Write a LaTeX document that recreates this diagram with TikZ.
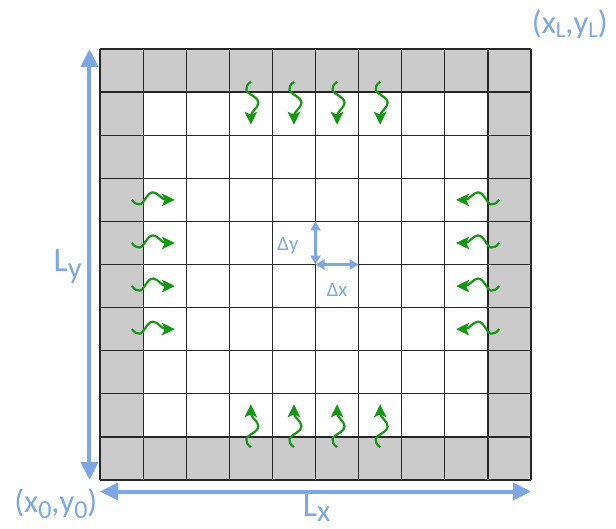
\documentclass[tikz,border=0pt]{standalone}
\usepackage{fontspec}
\usepackage{graphicx}
\setmainfont{Carlito}
\usetikzlibrary{positioning, arrows.meta}

\definecolor{cellgray}{RGB}{203,203,203}
\definecolor{axisblue}{RGB}{125,167,227}
\definecolor{fluxgreen}{RGB}{20,152,20}

% lowered, scaled index
\newcommand{\subidx}[3]{\raisebox{-#1em}{\scalebox{#2}{#3}}}

\begin{document}
\begin{tikzpicture}[
    x=43.1pt, y=43.1pt,
    gridline/.style={draw=black!85, line width=1.2pt},
    axis/.style={{Triangle[length=18pt,width=17pt]}-{Triangle[length=18pt,width=17pt]}, line width=4pt, draw=axisblue},
    spacing/.style={{Triangle[length=9pt,width=10pt]}-{Triangle[length=9pt,width=10pt]}, line width=2.5pt, draw=axisblue},
    biglabel/.style={text=axisblue, font=\fontsize{34}{40}\selectfont, inner sep=0pt},
    cornerlabel/.style={text=axisblue, font=\fontsize{32.5}{38}\selectfont, inner sep=0pt},
    smalllabel/.style={text=axisblue, font=\fontsize{20.5}{24}\selectfont, inner sep=0pt},
    wavearrow/.style={-{Stealth[length=13pt,width=12.5pt,inset=3pt]}, line width=2.2pt, draw=fluxgreen},
    pics/wave/.style={code={
        \draw[wavearrow, x=1pt, y=1pt] (0,0) .. controls (3,-4) and (5,-4.5) .. (8,-4.5)
            .. controls (12,-4.5) and (15,7.5) .. (21,7.5)
            .. controls (26,7.5) and (30,0) .. (43,0);
    }}
]
\useasboundingbox (-2.3202,-1.1137) rectangle (11.972,11.137);

% Cells
\fill[cellgray, even odd rule] (0,0) rectangle (10,10) (1,1) rectangle (9,9);
\draw[gridline, step=1] (0,0) grid (10,10);

% Domain size
\coordinate (ybot) at (-0.244,0);
\coordinate (ytop) at (-0.244,10);
\coordinate (xleft) at (0,-0.267);
\coordinate (xright) at (10,-0.267);
\draw[axis] (ybot) -- (ytop);
\draw[axis] (xleft) -- (xright);

\node[biglabel, anchor=base west] (lylabel) at (-1.083,4.833) {L\subidx{0.2}{0.9}{y}};
\node[biglabel, anchor=base west] (lxlabel) at (4.703,-0.85) {L\subidx{0.15}{0.9}{x}};
\node[cornerlabel] (lowcorner) at (-1.025,-0.552) {(x\subidx{0.2}{0.8}{0},y\subidx{0.2}{0.8}{0})};
\node[cornerlabel] (highcorner) at (10.90,10.564) {(x\subidx{0.1}{0.7}{L},y\subidx{0.1}{0.7}{L})};

% Grid spacing
\coordinate (cellorigin) at (5,5);
\coordinate (dyend) at (5,6);
\coordinate (dxend) at (6,5);
\draw[spacing] (cellorigin) -- (dyend);
\draw[spacing] (cellorigin) -- (dxend);
\node[smalllabel] (dylabel) at (4.36,5.45) {Δy};
\node[smalllabel] (dxlabel) at (5.50,4.42) {Δx};

% Boundary fluxes
\foreach \r in {3.5,4.5,5.5,6.5} {
    \pic at (0.74,\r) {wave};
    \pic[xscale=-1] at (9.26,\r) {wave};
}
\foreach \c in {3.5,4.5,5.5,6.5} {
    \pic[rotate=-90] at (\c,9.24) {wave};
    \pic[rotate=90, yscale=-1] at (\c,0.76) {wave};
}

\end{tikzpicture}
\end{document}
